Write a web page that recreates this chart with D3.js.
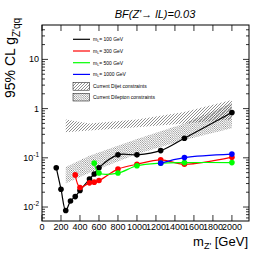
<!DOCTYPE html>
<html>
<head>
<meta charset="utf-8">
<script src="https://cdn.jsdelivr.net/npm/d3@7"></script>
<style>
body { margin: 0; background: #fff; }
svg text { font-family: "Liberation Sans", Arial, sans-serif; }
</style>
</head>
<body>
<script>
// limits on g_Z'qq vs m_Z' for each m_L
var massL100 = [150, 200, 250, 300, 350, 400, 500, 550, 600, 800, 1000, 1250, 1500, 2000];
var gL100 = [0.063, 0.023, 0.0085, 0.0133, 0.0163, 0.0216, 0.037, 0.047, 0.063, 0.115, 0.115, 0.14, 0.25, 0.83];
var massL300 = [350, 400, 500, 550, 600, 800, 1000, 1250, 1500, 2000];
var gL300 = [0.045, 0.025, 0.031, 0.032, 0.0345, 0.059, 0.074, 0.091, 0.074, 0.103];
var massL500 = [550, 600, 800, 1000, 1250, 1500, 2000];
var gL500 = [0.078, 0.049, 0.049, 0.069, 0.078, 0.08, 0.08];
var massL1000 = [1250, 1500, 2000];
var gL1000 = [0.078, 0.101, 0.119];

// constraint bands
var bandMass = [250, 500, 1000, 1500, 2000];
var dijetLow = [0.33, 0.36, 0.42, 0.5, 0.6];
var dijetHigh = [0.6, 0.5, 0.6, 0.85, 1.5];
var dilepLow = [0.03, 0.05, 0.12, 0.23, 0.4];
var dilepHigh = [0.065, 0.11, 0.24, 0.5, 1.3];

var xTicks = [0, 200, 400, 600, 800, 1000, 1200, 1400, 1600, 1800, 2000];
var legendLabels = ["100", "300", "500", "1000"];
var colors = ["#000000", "#ff0000", "#00ff00", "#0000ff"];

var w = 277, h = 260;
var svg = d3.select("body").append("svg")
  .attr("width", w)
  .attr("height", h);

var x = d3.scaleLinear().domain([0, 2180]).range([42, 249]);
var y = d3.scaleLog().domain([0.0052, 50]).range([221, 25]);

var defs = svg.append("defs");
defs.append("pattern").attr("id", "hatchDijet")
  .attr("patternUnits", "userSpaceOnUse").attr("width", 3).attr("height", 3)
  .append("path").attr("d", "M-1,1 l2,-2 M0,3 l3,-3 M2,4 l2,-2")
  .attr("stroke", "#444").attr("stroke-width", 0.6);
defs.append("pattern").attr("id", "hatchDilep")
  .attr("patternUnits", "userSpaceOnUse").attr("width", 2.2).attr("height", 2.2)
  .append("path").attr("d", "M-1,-1 l4.2,4.2 M-1,1.2 l2,2 M1.2,-1 l2,2")
  .attr("stroke", "#444").attr("stroke-width", 0.5);

var area = function(low, high) {
  return d3.area()
    .x(function(d, i) { return x(bandMass[i]); })
    .y0(function(d, i) { return y(low[i]); })
    .y1(function(d, i) { return y(high[i]); })(bandMass);
};
svg.append("path").attr("d", area(dijetLow, dijetHigh)).attr("fill", "url(#hatchDijet)");
svg.append("path").attr("d", area(dilepLow, dilepHigh)).attr("fill", "url(#hatchDilep)");

// frame
svg.append("rect")
  .attr("x", 42).attr("y", 25)
  .attr("width", 207).attr("height", 196)
  .attr("fill", "none").attr("stroke", "#000").attr("stroke-width", 1);

// x ticks (inside, bottom and top)
xTicks.forEach(function(t) {
  svg.append("line").attr("x1", x(t)).attr("x2", x(t)).attr("y1", 221).attr("y2", 215).attr("stroke", "#000").attr("stroke-width", 0.8);
  svg.append("line").attr("x1", x(t)).attr("x2", x(t)).attr("y1", 25).attr("y2", 31).attr("stroke", "#000").attr("stroke-width", 0.8);
});
svg.selectAll(".xlab")
  .data(xTicks)
  .enter()
  .append("text")
  .attr("x", function(d) { return x(d); })
  .attr("y", 230)
  .attr("text-anchor", "middle")
  .attr("font-size", "9px")
  .text(function(d) { return d; });

// y ticks, log decades
var yMajor = [0.01, 0.1, 1, 10];
var yMinor = [];
[0.001, 0.01, 0.1, 1, 10].forEach(function(dec) {
  for (var k = 2; k <= 9; k++) {
    var v = dec * k;
    if (v > 0.0052 && v < 50) yMinor.push(v);
  }
});
yMajor.forEach(function(v) {
  svg.append("line").attr("x1", 42).attr("x2", 48).attr("y1", y(v)).attr("y2", y(v)).attr("stroke", "#000").attr("stroke-width", 0.8);
  svg.append("line").attr("x1", 249).attr("x2", 243).attr("y1", y(v)).attr("y2", y(v)).attr("stroke", "#000").attr("stroke-width", 0.8);
});
yMinor.forEach(function(v) {
  svg.append("line").attr("x1", 42).attr("x2", 45).attr("y1", y(v)).attr("y2", y(v)).attr("stroke", "#000").attr("stroke-width", 0.8);
  svg.append("line").attr("x1", 249).attr("x2", 246).attr("y1", y(v)).attr("y2", y(v)).attr("stroke", "#000").attr("stroke-width", 0.8);
});
var yLabs = [{v: 0.01, b: "10", e: "-2"}, {v: 0.1, b: "10", e: "-1"}, {v: 1, b: "1", e: ""}, {v: 10, b: "10", e: ""}];
yLabs.forEach(function(l) {
  var t = svg.append("text")
    .attr("x", 39).attr("y", y(l.v) + 3)
    .attr("text-anchor", "end")
    .attr("font-size", "9px");
  t.append("tspan").text(l.b);
  if (l.e) t.append("tspan").attr("dy", -4).attr("font-size", "6.5px").text(l.e);
});

// series
var series = [
  {m: massL100, g: gL100, c: colors[0]},
  {m: massL300, g: gL300, c: colors[1]},
  {m: massL500, g: gL500, c: colors[2]},
  {m: massL1000, g: gL1000, c: colors[3]}
];
var line = d3.line().curve(d3.curveCatmullRom.alpha(0.5));
series.forEach(function(s) {
  var pts = s.m.map(function(m, i) { return [x(m), y(s.g[i])]; });
  svg.append("path")
    .attr("d", line(pts))
    .attr("fill", "none")
    .attr("stroke", s.c)
    .attr("stroke-width", 1.2);
  svg.selectAll(null)
    .data(pts)
    .enter()
    .append("circle")
    .attr("cx", function(d) { return d[0]; })
    .attr("cy", function(d) { return d[1]; })
    .attr("r", 2.8)
    .attr("fill", s.c);
});

// legend
legendLabels.forEach(function(lab, i) {
  var ly = 39.3 + i * 11.7;
  svg.append("line").attr("x1", 73).attr("x2", 90).attr("y1", ly).attr("y2", ly)
    .attr("stroke", colors[i]).attr("stroke-width", 1.2);
  var t = svg.append("text").attr("x", 93).attr("y", ly + 1.8).attr("font-size", "5px");
  t.append("tspan").text("m");
  t.append("tspan").attr("dy", 1).attr("font-size", "3.5px").text("L");
  t.append("tspan").attr("dy", -1).text("= " + lab + " GeV");
});
var boxes = [{fill: "url(#hatchDijet)", label: "Current Dijet constraints"},
             {fill: "url(#hatchDilep)", label: "Current Dilepton constraints"}];
boxes.forEach(function(b, i) {
  var by = 82.7 + i * 10.8;
  svg.append("rect").attr("x", 73).attr("y", by).attr("width", 16.5).attr("height", 7.5)
    .attr("fill", b.fill).attr("stroke", "#000").attr("stroke-width", 0.5);
  svg.append("text").attr("x", 93).attr("y", by + 5.5).attr("font-size", "5px").text(b.label);
});

// titles
svg.append("text")
  .attr("x", 155).attr("y", 18)
  .attr("text-anchor", "middle")
  .attr("font-size", "11px")
  .attr("font-style", "italic")
  .text("BF(Z'\u2192 lL)=0.03");

var yt = svg.append("text")
  .attr("transform", "translate(15,98) rotate(-90)")
  .attr("font-size", "14px");
yt.append("tspan").text("95% CL g");
yt.append("tspan").attr("dy", 5).attr("font-size", "10px").text("Z'qq");

var xt = svg.append("text")
  .attr("x", 248).attr("y", 246)
  .attr("text-anchor", "end")
  .attr("font-size", "13px");
xt.append("tspan").text("m");
xt.append("tspan").attr("dy", 3).attr("font-size", "9px").text("Z'");
xt.append("tspan").attr("dy", -3).text(" [GeV]");
</script>
</body>
</html>
